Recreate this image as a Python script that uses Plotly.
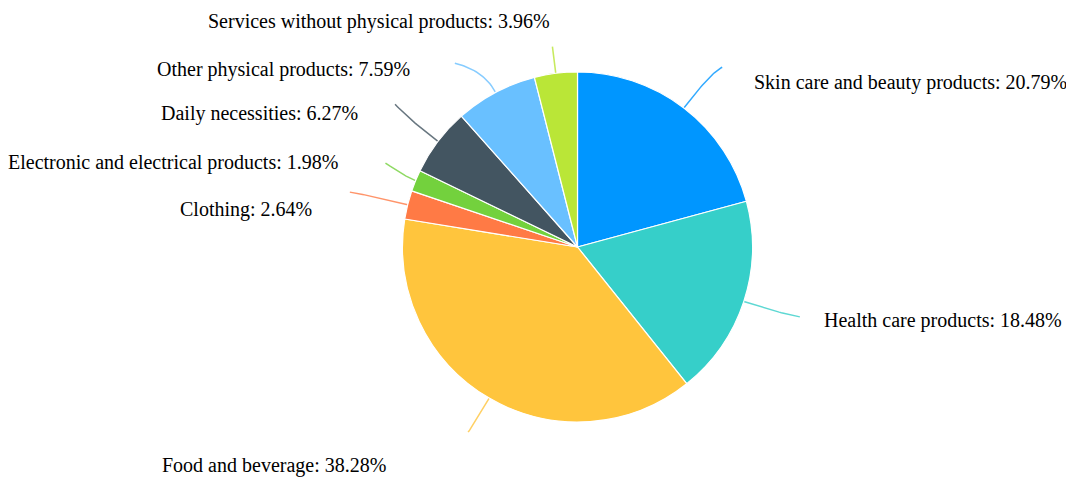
import math
import plotly.graph_objects as go

# ---- data ----
categories = [
    "Skin care and beauty products",
    "Health care products",
    "Food and beverage",
    "Clothing",
    "Electronic and electrical products",
    "Daily necessities",
    "Other physical products",
    "Services without physical products",
]
shares = [20.79, 18.48, 38.28, 2.64, 1.98, 6.27, 7.59, 3.96]

# ---- styles / layout ----
colors = ["#0096ff", "#36cfc9", "#ffc53d", "#ff7a45", "#73d13d", "#435561", "#69c0ff", "#bae637"]
W, H = 1066, 477
CX, CY, R = 577.5, 247.0, 175.0
# leader line params per slice: radial length, horizontal length, vertical shift
leader_l1 = [45, 40, 38, 40, 12, 35, 25, 27]
leader_l2 = [11, 18, 2, 19, 19, 15, 29, 0]
leader_dy = [-5, 3, 1, -3, -13, -16, -7, 0]
# label anchor positions (px) and anchors
label_x = [752, 822, 388, 314, 340, 360, 412, 552]
label_y = [82, 320, 465, 209, 162, 113, 69, 21]
label_anchor = ["left", "left", "right", "right", "right", "right", "right", "right"]

fig = go.Figure()
fig.add_trace(go.Pie(
    labels=categories,
    values=shares,
    sort=False,
    direction="clockwise",
    rotation=0,
    marker=dict(colors=colors, line=dict(color="#ffffff", width=1.2)),
    textinfo="none",
    hovertemplate="%{label}: %{value}%<extra></extra>",
    showlegend=False,
    domain=dict(x=[(CX - R) / W, (CX + R) / W], y=[(H - (CY + R)) / H, (H - (CY - R)) / H]),
))

total = sum(shares)
cum = 0.0
for i, v in enumerate(shares):
    mid = (cum + v / 2) / total * 2 * math.pi
    cum += v
    dx, dy = math.sin(mid), -math.cos(mid)
    p0 = (CX + R * dx, CY + R * dy)
    p1 = (p0[0] + leader_l1[i] * dx, p0[1] + leader_l1[i] * dy)
    sign = 1 if dx >= 0 else -1
    p2 = (p1[0] + sign * leader_l2[i], p1[1] + leader_dy[i])
    xs, ys = [], []
    n = 24
    for k in range(n + 1):
        t = k / n
        xs.append((1 - t) ** 2 * p0[0] + 2 * (1 - t) * t * p1[0] + t ** 2 * p2[0])
        ys.append((1 - t) ** 2 * p0[1] + 2 * (1 - t) * t * p1[1] + t ** 2 * p2[1])
    fig.add_trace(go.Scatter(
        x=xs, y=ys, mode="lines",
        line=dict(color=colors[i], width=1.5),
        opacity=0.8, hoverinfo="skip", showlegend=False,
    ))
    fig.add_annotation(
        x=label_x[i], y=label_y[i], xref="x", yref="y",
        text=f"{categories[i]}: {v:.2f}%",
        showarrow=False, xanchor=label_anchor[i], yanchor="middle",
        font=dict(family="Liberation Serif, Times New Roman, serif", size=20, color="#000000"),
    )

fig.update_layout(
    width=W, height=H,
    margin=dict(l=0, r=0, t=0, b=0),
    paper_bgcolor="#ffffff", plot_bgcolor="#ffffff",
    xaxis=dict(range=[0, W], visible=False, fixedrange=True),
    yaxis=dict(range=[H, 0], visible=False, fixedrange=True),
)
fig.write_html(
    "out.html",
    config={"displayModeBar": False},
    post_script="document.body.style.margin='0';document.body.style.overflow='hidden';",
)
